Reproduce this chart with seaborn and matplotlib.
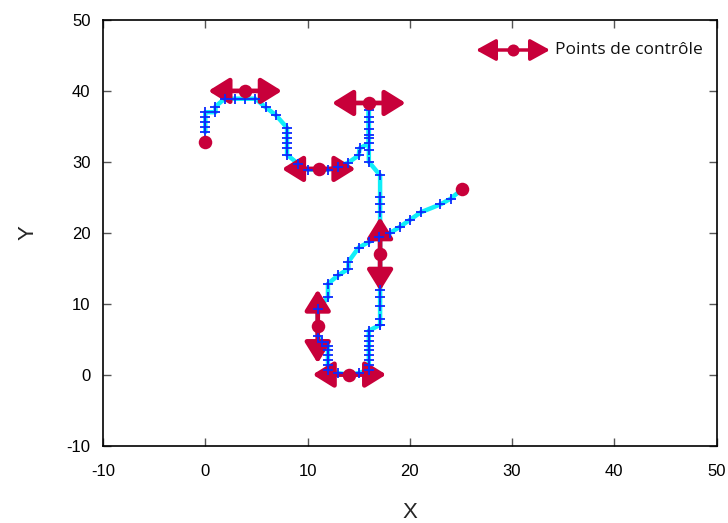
import matplotlib
matplotlib.use("Agg")
import matplotlib.pyplot as plt
import seaborn as sns
import pandas as pd

# ---- data ----
curve_x = [0, 0, 0, 0, 0, 1, 1, 1.9, 2.9, 3.9, 4.9, 5.9, 6.9, 8, 8, 8, 8, 8, 8,
           9.1, 10, 11, 12, 13, 14, 15, 15.1,
           16, 16, 16, 16, 16, 16,
           16, 16, 16,
           17.1, 17.1, 17.1, 17.1, 17.1, 17.1, 17.1, 17.1, 17.1, 17.1,
           16, 16, 16, 16, 16, 16, 16, 16, 16, 15, 14, 13, 12, 12, 12, 12, 12, 12,
           11.4, 11, 11, 12, 12, 13, 14, 14, 15, 16, 17, 18.1, 19,
           20, 21.1, 23, 24, 25]
curve_y = [34.2, 34.9, 35.6, 36.3, 37.0, 37.0, 37.8, 38.9, 38.9, 38.9, 38.9, 37.7,
           36.6, 34.8, 34.1, 33.4, 32.6, 31.9, 31.0, 29.7, 28.9, 28.9, 28.9, 29.3,
           29.9, 30.9, 31.9,
           32.6, 33.8, 34.7, 35.6, 36.3, 37.3,
           33.3, 31.6, 30.0,
           28.1, 25.0, 24.1, 22.9, 11.9, 10.9, 9.7, 7.9, 7.0, 7.0,
           6.2, 5.5, 4.8, 4.1, 3.4, 2.8, 2.1, 1.4, 0.7, 0.2, 0.0, 0.2, 0.7,
           1.4, 2.1, 2.8, 3.5, 4.1, 4.6, 5.5, 9.2, 10.9, 12.8, 14.0,
           14.9, 15.9, 17.9, 18.7, 19.4, 20.0, 20.8, 21.8, 22.9, 24.0, 24.8, 26.0]

ctrl_x = [0, 3.9, 16, 11.1, 17.1, 11, 14.1, 25.1]
ctrl_y = [32.8, 40, 38.3, 29, 17, 6.8, 0, 26.1]
ctrl_dir = ["", "h", "h", "h", "v", "v", "h", ""]

x_ticks = [-10, 0, 10, 20, 30, 40, 50]
y_ticks = [-10, 0, 10, 20, 30, 40, 50]
legend_label = "Points de contrôle"

RED = "#c8003a"
CYAN = "#10eef8"
BLUE = "#0a2aff"

sns.set_theme(style="white")
plt.rcParams["font.family"] = ["Liberation Sans", "DejaVu Sans"]

fig = plt.figure(figsize=(7.28, 5.23), dpi=100)
ax = fig.add_axes([103 / 728, 1 - 445.5 / 523, (716.5 - 103) / 728, (445.5 - 20) / 523])

curve = pd.DataFrame({"x": curve_x, "y": curve_y})
ctrl = pd.DataFrame({"x": ctrl_x, "y": ctrl_y, "d": ctrl_dir})

sns.lineplot(data=curve, x="x", y="y", sort=False, estimator=None, color=CYAN,
             lw=3.2, ax=ax, zorder=2)

hx, hy = 3.6, 5.2
for _, r in ctrl.iterrows():
    if r.d == "h":
        p0, p1 = (r.x - hx, r.y), (r.x + hx, r.y)
    elif r.d == "v":
        p0, p1 = (r.x, r.y - hy), (r.x, r.y + hy)
    else:
        continue
    ax.annotate("", xy=p1, xytext=p0,
                arrowprops=dict(arrowstyle="<|-|>,head_length=1.0,head_width=0.62",
                                mutation_scale=12.5, color=RED, lw=3.4,
                                shrinkA=0, shrinkB=0), zorder=3)

sns.scatterplot(data=curve, x="x", y="y", marker="+", s=55, color=BLUE,
                linewidth=1.3, ax=ax, zorder=4)
sns.scatterplot(data=ctrl, x="x", y="y", s=95, color=RED, edgecolor=RED,
                linewidth=0, ax=ax, zorder=5)

ax.set_xlim(-10, 50)
ax.set_ylim(-10, 50)
ax.set_xticks(x_ticks)
ax.set_yticks(y_ticks)
ax.set_xticklabels([str(v) for v in x_ticks])
ax.set_yticklabels([str(v) for v in y_ticks])
ax.tick_params(direction="in", length=6, width=1, color="#555555",
               top=True, right=True, bottom=True, left=True, labelsize=12,
               labelcolor="black")
ax.tick_params(axis="x", pad=13)
ax.tick_params(axis="y", pad=9)
for s in ax.spines.values():
    s.set_color("black")
    s.set_linewidth(1.2)
ax.set_xlabel("X", fontsize=16, labelpad=17)
ax.set_ylabel("Y", fontsize=16, labelpad=20)

# legend entry
ax.annotate("", xy=(0.7286, 0.9295), xytext=(0.608, 0.9295), xycoords="axes fraction",
            arrowprops=dict(arrowstyle="<|-|>,head_length=1.0,head_width=0.55",
                            mutation_scale=12, color=RED, lw=2.5,
                            shrinkA=0, shrinkB=0), zorder=5)
ax.scatter([0.668], [0.9295], s=75, color=RED, transform=ax.transAxes, zorder=6,
           linewidths=0)
ax.text(0.737, 0.9295, legend_label, transform=ax.transAxes, va="center", ha="left",
        fontsize=12.5, family=["Open Sans", "DejaVu Sans"], color="#111111")

fig.savefig("out.png", dpi=100)
